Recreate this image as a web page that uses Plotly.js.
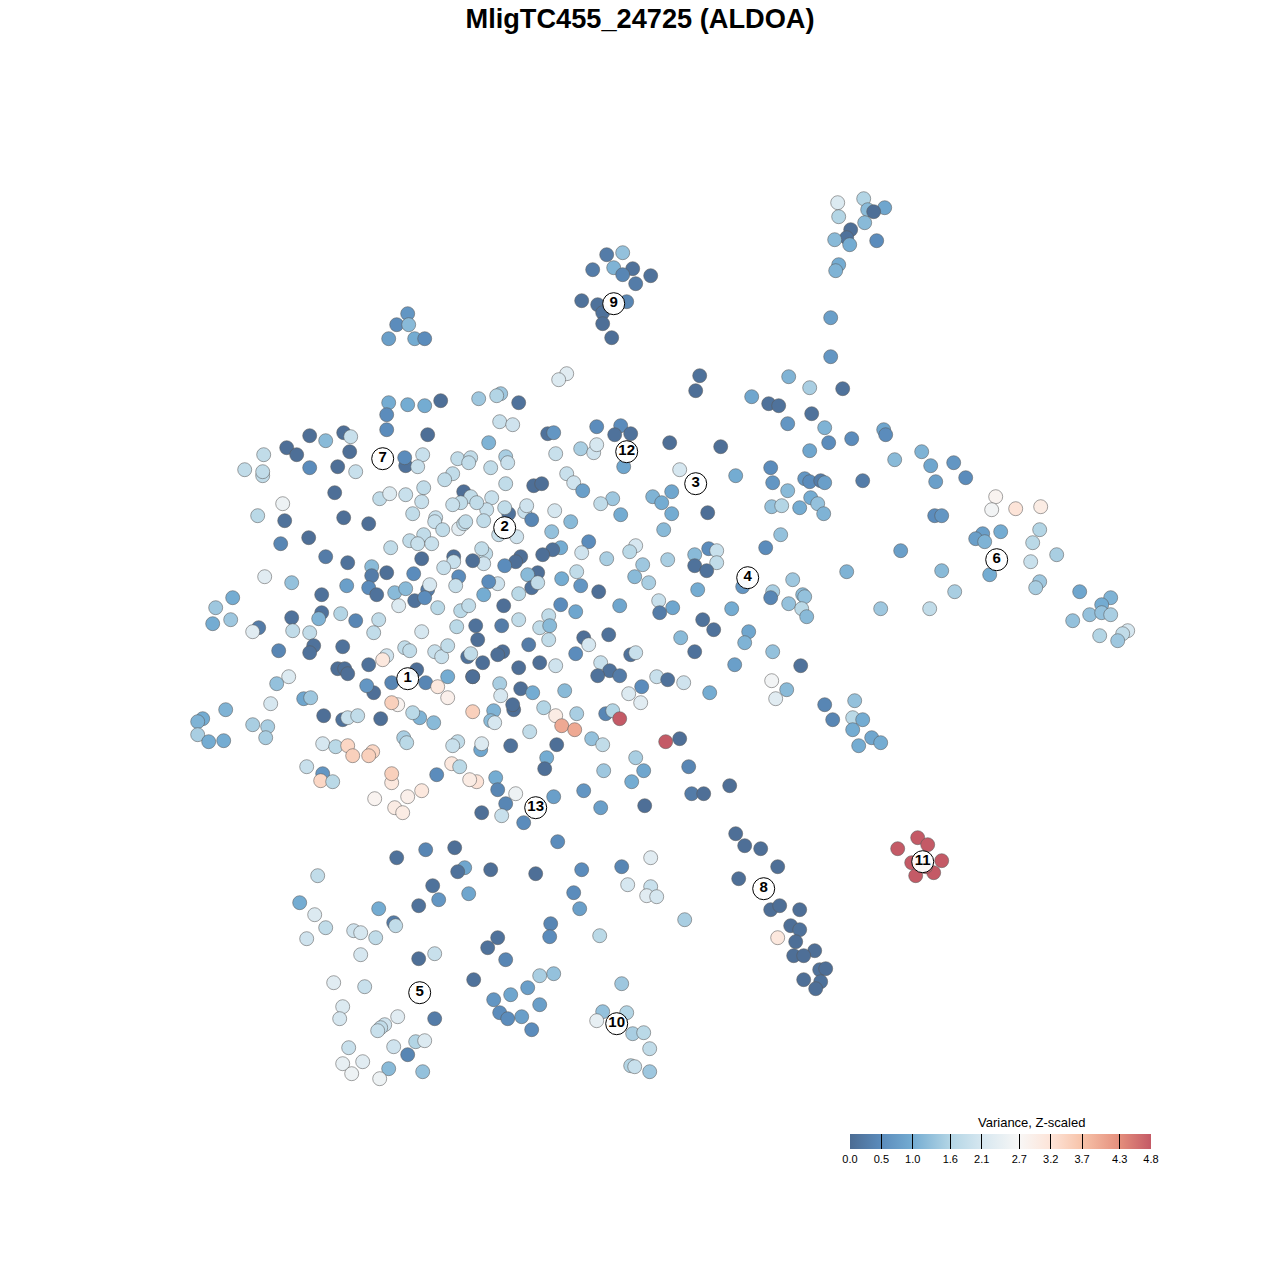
<!DOCTYPE html>
<html><head><meta charset="utf-8">
<script src="https://cdn.plot.ly/plotly-3.0.1.min.js"></script>
<style>html,body{margin:0;padding:0;background:#fff}#c{width:1280px;height:1280px}</style>
</head><body><div id="c"></div>
<script>
// t-SNE embedding positions (plot units), with Z-scaled variance
const topRightX=[837,863,884,867,873,838,864,850,846,834,849,876,838,835,830,830];
const topRightY=[202,198,207,209,211,216,222,229,237,239,244,240,264,270,317,356];
const topRightV=[2.2,1.6,0.9,1.2,0.05,1.6,1.2,0.05,0.1,1.2,1.0,0.5,1.0,1.1,0.8,0.65];

const c9X=[606,622,592,613,632,622,650,635,581,597,626,602,602,611];
const c9Y=[254,252,269,267,268,274,275,283,300,304,301,312,323,337];
const c9V=[0.25,1.3,0.25,1.1,0.1,0.4,0.1,0.25,0.1,0.1,0.4,0.1,0.05,0.05];

const smallX=[407,396,408,388,414,424];
const smallY=[313,324,324,338,338,338];
const smallV=[0.65,0.5,1.2,0.8,1.0,0.5];

const upperRightX=[566,558,699,695,788,809,842,751,768,778,811,787,824,828,851,883,885,809,894,921,930,953,965,935,770,772,804,809,820,824,862,735,787,810,817,771,781,799,823,780,765,934,941,900];
const upperRightY=[373,379,375,390,376,387,388,396,403,405,413,423,427,442,438,429,434,450,459,451,465,462,477,481,467,482,478,481,480,482,480,475,490,497,503,506,505,507,513,534,547,515,515,550];
const upperRightV=[2.3,2.2,0.1,0.05,1.1,1.5,0.1,0.9,0.1,0.1,0.1,0.65,1.1,0.5,0.5,0.9,0.5,0.9,1.2,1.1,0.9,0.65,0.5,0.8,0.5,0.65,0.65,0.5,0.25,0.8,0.25,1.0,1.2,1.0,1.3,1.3,1.6,1.0,1.1,1.3,0.5,0.5,0.65,0.8];

const farRightX=[995,991,1015,1040,1039,1032,982,1000,975,984,1056,1030,989,941,1039,1035,954,1079,1110,1101,1089,1101,1110,1072,1099,1127,1122,1117,880,929,846];
const farRightY=[496,509,508,506,529,542,533,531,538,541,554,561,574,570,581,587,591,591,597,604,614,612,614,620,635,630,633,640,608,608,571];
const farRightV=[2.8,2.6,3.2,3.0,1.6,1.7,0.8,1.0,0.8,1.1,1.5,1.9,1.0,1.2,1.4,1.5,1.5,0.9,1.1,1.0,1.3,1.3,1.5,1.3,1.6,2.1,1.8,1.4,1.4,1.8,1.1];

const midRightX=[792,772,770,788,802,804,801,806,742,731,748,744,772,800,734,771,786,775,709,683,824,854,852,862,832,852,871,880,858];
const midRightY=[579,591,597,603,594,596,608,616,586,608,631,642,651,665,664,680,689,698,692,682,704,700,717,719,719,729,737,742,745];
const midRightV=[1.4,1.5,0.4,1.3,1.2,1.3,1.7,1.2,0.65,1.0,0.9,1.1,1.3,0.1,0.8,2.6,1.2,2.3,1.0,2.0,0.4,1.3,1.7,1.0,0.4,1.0,0.9,1.0,1.0];

const centreTopX=[500,496,518,499,512,547,553,596,620,614,630,669,720,488,555,580,593,596,623,679,490,505,507,566,573,582,533,541,505,652,671,661,671,612,600,620,707,663];
const centreTopY=[393,395,402,421,424,433,432,426,425,434,433,442,446,442,453,448,452,444,466,469,467,456,462,473,482,490,485,483,483,496,491,502,513,498,503,514,512,529];
const centreTopV=[1.4,1.6,0.1,1.9,2.0,0.1,0.65,0.5,0.5,0.1,0.1,0.05,0.05,1.1,1.9,1.5,2.0,2.1,0.9,2.1,1.8,1.5,1.9,1.9,2.0,0.8,0.05,0.05,1.8,1.1,0.9,1.0,1.0,1.4,1.8,1.0,0.05,1.2];

const centreMidX=[508,491,486,504,524,526,554,531,570,483,516,498,551,588,581,560,552,542,520,515,504,635,629,606,642,667,708,694,716,716,694,706,485,481,483,634,648,576,561,537,527,531,537,497,488,483,518,580,598,697];
const centreMidY=[513,497,509,507,511,505,510,519,521,520,536,534,531,541,552,547,549,554,556,561,565,545,551,558,564,559,548,554,550,562,565,570,553,548,563,576,582,571,578,572,574,587,582,583,581,594,593,585,591,589];
const centreMidV=[0.1,1.9,1.9,1.8,1.9,2.0,2.1,0.4,1.2,1.8,2.0,1.9,1.3,0.5,2.0,1.0,0.1,0.05,0.05,0.05,0.5,2.1,1.7,1.5,1.4,1.5,0.5,1.2,1.9,1.8,0.1,0.1,1.8,1.8,2.0,1.2,1.5,1.8,1.0,0.05,1.2,0.1,1.8,2.0,0.5,1.0,1.7,0.65,0.05,1.0];

const centreLowX=[658,672,659,619,575,560,503,518,501,548,539,549,548,702,713,680,694,583,608,588,528,575,630,635,539,555,518,502,497,482,477,475,600,609,597,619,656,667];
const centreLowY=[600,607,612,605,611,604,605,619,625,615,627,625,639,619,629,637,651,637,634,644,644,653,654,652,662,665,667,651,654,662,639,625,662,670,675,675,676,679];
const centreLowV=[1.9,0.9,0.25,0.9,0.9,0.5,0.05,1.8,0.25,1.8,1.8,1.2,1.8,0.1,0.1,1.2,0.1,0.05,0.1,2.1,0.25,0.5,0.1,1.9,0.05,2.0,0.05,0.05,0.05,0.05,0.05,0.1,1.9,0.1,0.1,0.25,1.9,0.1];

const southX=[472,499,500,520,532,564,641,628,640,513,512,493,472,490,494,543,576,555,561,574,605,612,619,529,591,602,556,510,480,481,665,679,635,546,544,603,643,688,631,495,476,497,515,553,583,691,703,729,600,644,505,481,501,523,557,735,744,760,650];
const southY=[676,683,695,688,692,690,686,693,702,709,704,710,711,720,722,707,713,715,725,729,713,710,718,731,738,744,744,745,749,743,741,738,757,757,768,770,770,766,781,777,781,789,793,796,790,793,793,785,807,805,803,812,815,822,841,833,845,848,857];
const southV=[0.05,1.5,2.1,0.05,1.0,1.2,0.5,2.2,2.3,0.05,0.05,1.1,3.5,1.2,2.1,1.6,1.5,3.0,4.0,4.0,0.4,1.6,4.8,1.8,1.3,1.8,0.05,0.1,0.9,2.2,4.8,0.05,1.5,1.0,0.05,1.4,0.9,0.4,1.0,1.0,3.2,0.4,2.5,0.8,0.65,0.25,0.05,0.05,0.8,0.05,0.4,0.05,1.9,0.5,0.5,0.05,0.05,0.05,2.3];

const nwAX=[388,407,424,440,386,386,427,478,343,350,309,325,286,296,349,263,337,309,355,244,262,262,405,404,422,417,457,470,468,452,444,334,379,389,405,423,421,463,470,460,452,476,412,282,257,284,343,368,435,434,442,458,463,465];
const nwAY=[402,404,405,400,414,429,434,398,432,436,435,440,447,454,451,454,466,467,471,469,475,471,465,457,454,466,458,457,462,473,479,492,498,493,494,487,501,491,496,502,504,502,513,503,515,520,517,523,517,521,529,528,523,521];
const nwAV=[1.0,1.0,1.0,0.05,0.5,0.5,0.05,1.4,0.05,1.9,0.05,1.2,0.05,0.05,0.05,1.8,0.05,0.5,1.9,1.8,1.8,1.8,0.1,0.5,1.9,1.9,1.8,1.8,1.8,1.8,1.8,0.05,1.8,2.2,1.9,1.8,1.9,0.05,1.8,1.8,1.9,1.8,1.8,2.5,1.7,0.1,0.05,0.05,1.9,1.9,1.8,2.3,1.8,1.8];

const nwBX=[308,280,390,409,423,417,431,325,347,371,371,386,421,453,453,443,472,413,458,455,264,291,346,368,376,394,405,427,429,414,424,398,437,460,468,232,215,212,230,321,321,318,340,291,355,378,373,258,252,292,309,421,456,278,313,309,342,368,337,344,347];
const nwBY=[537,543,547,540,534,543,543,556,562,566,575,572,558,556,561,567,560,573,576,585,576,582,585,587,594,592,588,589,584,600,597,605,607,610,605,597,607,623,619,594,612,618,613,617,620,619,632,627,631,630,632,631,626,650,645,652,646,664,668,668,673];
const nwBV=[0.05,0.4,1.8,1.8,1.8,1.9,1.9,0.25,0.1,1.2,0.25,0.05,0.05,0.05,1.9,1.9,0.05,0.5,0.5,1.9,2.3,1.3,0.8,0.5,0.1,1.2,1.2,0.25,2.1,0.1,0.5,2.2,1.7,1.7,1.8,1.0,1.4,1.0,1.4,0.1,0.1,1.1,1.6,0.1,0.4,1.8,1.8,0.25,2.3,1.8,1.8,2.1,1.7,0.4,0.1,0.1,0.1,0.1,0.05,0.05,0.05];

const swAX=[404,409,434,441,447,467,470,386,382,288,276,373,366,391,416,425,447,472,437,447,397,391,419,412,433,303,310,270,225,202,197,252,267,323,342,347,357,380,197,208,223,265];
const swAY=[647,650,651,656,645,656,653,655,659,676,683,692,685,682,669,682,676,676,686,697,704,702,717,712,722,698,697,703,709,718,721,724,726,715,719,717,715,718,734,741,740,737];
const swAV=[1.8,1.8,1.9,1.9,1.8,0.1,1.8,2.0,3.1,2.2,1.3,0.05,0.65,0.4,0.05,0.4,1.0,0.05,3.1,2.9,2.8,3.5,1.1,1.7,1.2,0.9,1.4,2.1,1.1,1.0,1.1,1.5,1.5,0.05,0.1,1.9,1.8,0.05,1.5,1.0,1.0,1.5];

const swBX=[322,335,347,352,372,368,403,406,457,452,436,306,322,320,332,391,391,451,459,469,421,374,407,394,402,425,454,396];
const swBY=[743,746,745,755,751,755,737,742,741,745,774,766,773,780,781,782,773,763,766,779,790,798,796,807,812,849,847,857];
const swBV=[2.1,1.7,3.4,3.5,3.4,3.5,1.5,1.7,1.8,1.9,0.5,1.9,0.65,3.4,1.7,3.1,3.5,3.1,1.7,3.0,3.1,2.8,2.9,3.0,3.0,0.4,0.05,0.1];

const bottomAX=[464,457,490,535,581,621,317,432,627,650,646,656,573,468,438,418,299,378,579,314,684,393,395,325,550,549,353,360,375,306,599,497,487,434,360,418,505];
const bottomAY=[867,871,869,873,869,866,875,885,884,886,895,896,892,893,899,905,902,908,908,914,919,922,925,927,923,936,930,932,937,938,935,937,947,953,954,958,959];
const bottomAV=[0.9,0.1,0.05,0.05,0.5,0.4,1.8,0.1,2.1,1.9,2.3,2.1,0.5,0.9,0.65,0.1,1.0,1.0,0.8,2.2,1.5,0.25,1.8,1.8,0.4,0.5,2.0,2.1,1.8,2.0,1.7,0.1,0.1,1.9,2.1,0.05,0.4];

const bottomBX=[553,539,473,527,333,364,621,493,510,539,342,499,507,521,339,397,434,602,626,596,384,380,377,531,632,643,348,393,415,424,649,407,342,362,351,388,379,422,630,634,649];
const bottomBY=[973,975,979,987,982,986,983,999,994,1004,1006,1012,1018,1016,1018,1016,1018,1011,1012,1020,1024,1027,1030,1029,1033,1032,1047,1046,1041,1040,1048,1054,1063,1061,1073,1068,1078,1071,1065,1066,1071];
const bottomBV=[1.3,1.5,0.1,0.8,2.3,1.9,1.4,0.65,0.9,0.8,2.2,0.5,0.5,0.8,2.1,2.3,0.25,1.3,1.6,2.4,2.0,1.8,1.9,0.5,1.5,1.7,1.9,2.0,1.6,2.2,1.8,0.4,2.4,2.3,2.5,1.2,2.5,1.3,1.6,1.9,1.4];

const c8X=[738,770,779,799,777,790,799,795,777,814,793,803,819,825,803,820,815];
const c8Y=[878,909,905,909,866,925,929,941,937,950,955,955,969,968,979,981,988];
const c8V=[0.05,0.05,0.05,0.05,0.05,0.05,0.1,0.05,3.1,0.05,0.05,0.05,0.1,0.05,0.05,0.1,0.05];

const c11X=[917,927,897,911,941,933,915,925];
const c11Y=[837,844,848,862,860,872,875,866];
const c11V=[4.8,4.8,4.8,4.8,4.8,4.8,4.8,4.8];

const groupsX=[topRightX,c9X,smallX,upperRightX,farRightX,midRightX,centreTopX,centreMidX,centreLowX,southX,nwAX,nwBX,swAX,swBX,bottomAX,bottomBX,c8X,c11X];
const groupsY=[topRightY,c9Y,smallY,upperRightY,farRightY,midRightY,centreTopY,centreMidY,centreLowY,southY,nwAY,nwBY,swAY,swBY,bottomAY,bottomBY,c8Y,c11Y];
const groupsV=[topRightV,c9V,smallV,upperRightV,farRightV,midRightV,centreTopV,centreMidV,centreLowV,southV,nwAV,nwBV,swAV,swBV,bottomAV,bottomBV,c8V,c11V];

const labelText=["1","2","3","4","5","6","7","8","9","10","11","12","13"];
const labelX=[407,504,695,747,419,996,382,763,613,616,922,626,535];
const labelY=[678,527,483,577,992,559,458,888,303,1023,861,451,807];

const barTicks=[0,0.5,1.0,1.6,2.1,2.7,3.2,3.7,4.3,4.8];
const barLabels=["0.0","0.5","1.0","1.6","2.1","2.7","3.2","3.7","4.3","4.8"];
const scale=[[0,"#4c6c93"],[0.104,"#5b8cbc"],[0.208,"#74acd2"],[0.333,"#b3d5e5"],[0.4375,"#d6e7f0"],[0.5625,"#f8f7f6"],[0.667,"#fde4d8"],[0.771,"#f7c3a9"],[0.896,"#e48e7c"],[1,"#c45a66"]];

const x=groupsX.flat(), y=groupsY.flat(), v=groupsV.flat();

Plotly.newPlot("c",[
 {type:"scatter",mode:"markers",x:x,y:y,hoverinfo:"skip",
  marker:{size:14,color:v,cmin:0,cmax:4.8,colorscale:scale,opacity:1,
   line:{color:"rgba(90,90,90,0.55)",width:1},
   colorbar:{orientation:"h",lenmode:"pixels",len:301,thicknessmode:"pixels",thickness:15,
    x:1000.5/1280,xanchor:"center",y:1-1134/1280,yanchor:"top",xpad:0,ypad:0,
    outlinewidth:0,borderwidth:0,tickmode:"array",tickvals:barTicks,ticktext:barLabels,
    ticks:"inside",ticklen:15,tickwidth:1,tickcolor:"#000",
    tickfont:{family:"Liberation Sans",size:11,color:"#000"}}}},
 {type:"scatter",mode:"markers+text",x:labelX,y:labelY,text:labelText,hoverinfo:"skip",
  textposition:"middle center",
  textfont:{family:"Liberation Sans",size:15,color:"#000",weight:700},
  marker:{size:22,color:"rgba(255,255,255,0.95)",line:{color:"#000",width:1}}}
],{
 width:1280,height:1280,margin:{l:0,r:0,t:0,b:0},showlegend:false,
 paper_bgcolor:"#fff",plot_bgcolor:"#fff",
 title:{text:"<b>MligTC455_24725 (ALDOA)</b>",x:0.5,xanchor:"center",xref:"paper",y:1-18/1280,yanchor:"middle",yref:"paper",
  font:{family:"Liberation Sans",size:27.2,color:"#000"}},
 annotations:[{text:"Variance, Z-scaled",xref:"paper",yref:"paper",x:1031/1280,y:1-1122/1280,xanchor:"center",yanchor:"middle",showarrow:false,
  font:{family:"Liberation Sans",size:13,color:"#000"}}],
 xaxis:{range:[-0.7,1279.3],visible:false,fixedrange:true},
 yaxis:{range:[1279.3,-0.7],visible:false,fixedrange:true}
},{displayModeBar:false,staticPlot:true});
</script></body></html>
